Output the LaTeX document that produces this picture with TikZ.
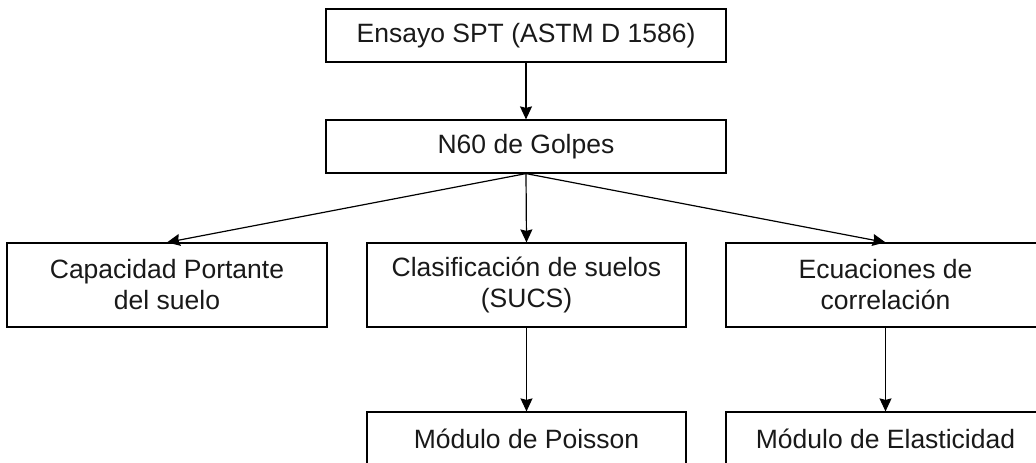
\documentclass[tikz,border=0pt]{standalone}
\usepackage{fontspec}
\setmainfont{Liberation Sans}
\usetikzlibrary{arrows.meta}
\begin{document}
\begin{tikzpicture}[x=1pt,y=-1pt,
  box/.style={draw, line width=1.2pt, rectangle, inner sep=0pt, align=center,
    font=\fontsize{26.5}{31}\selectfont, text=black!90},
  arr/.style={line width=1.2pt, -{Stealth[length=13pt,width=12pt,inset=1.5pt]}}]
\useasboundingbox (0,0) rectangle (1036,463);
\clip (0,0) rectangle (1036,463);
\node[box, minimum width=400pt, minimum height=53pt] (spt) at (526,35.5) {Ensayo SPT (ASTM D 1586)};
\node[box, minimum width=400pt, minimum height=53pt] (n60) at (526,146.5) {N60 de Golpes};
\node[box, minimum width=320pt, minimum height=84pt] (cap) at (167,285) {Capacidad Portante\\del suelo};
\node[box, minimum width=319pt, minimum height=84pt] (clas) at (526.5,285) {Clasificación de suelos\\(SUCS)};
\node[box, minimum width=319pt, minimum height=84pt] (ecu) at (885.5,285) {Ecuaciones de\\correlación};
\node[box, minimum width=319pt, minimum height=53pt] (poi) at (526.5,438.5) {Módulo de Poisson};
\node[box, minimum width=319pt, minimum height=53pt] (ela) at (885.5,438.5) {Módulo de Elasticidad};
\draw[arr] (spt) -- (n60);
\draw[arr] (n60.south) -- (cap.north);
\draw[arr] (n60.south) -- (clas.north);
\draw[arr] (n60.south) -- (ecu.north);
\draw[arr] (clas) -- (poi);
\draw[arr] (ecu) -- (ela);
\end{tikzpicture}
\end{document}
